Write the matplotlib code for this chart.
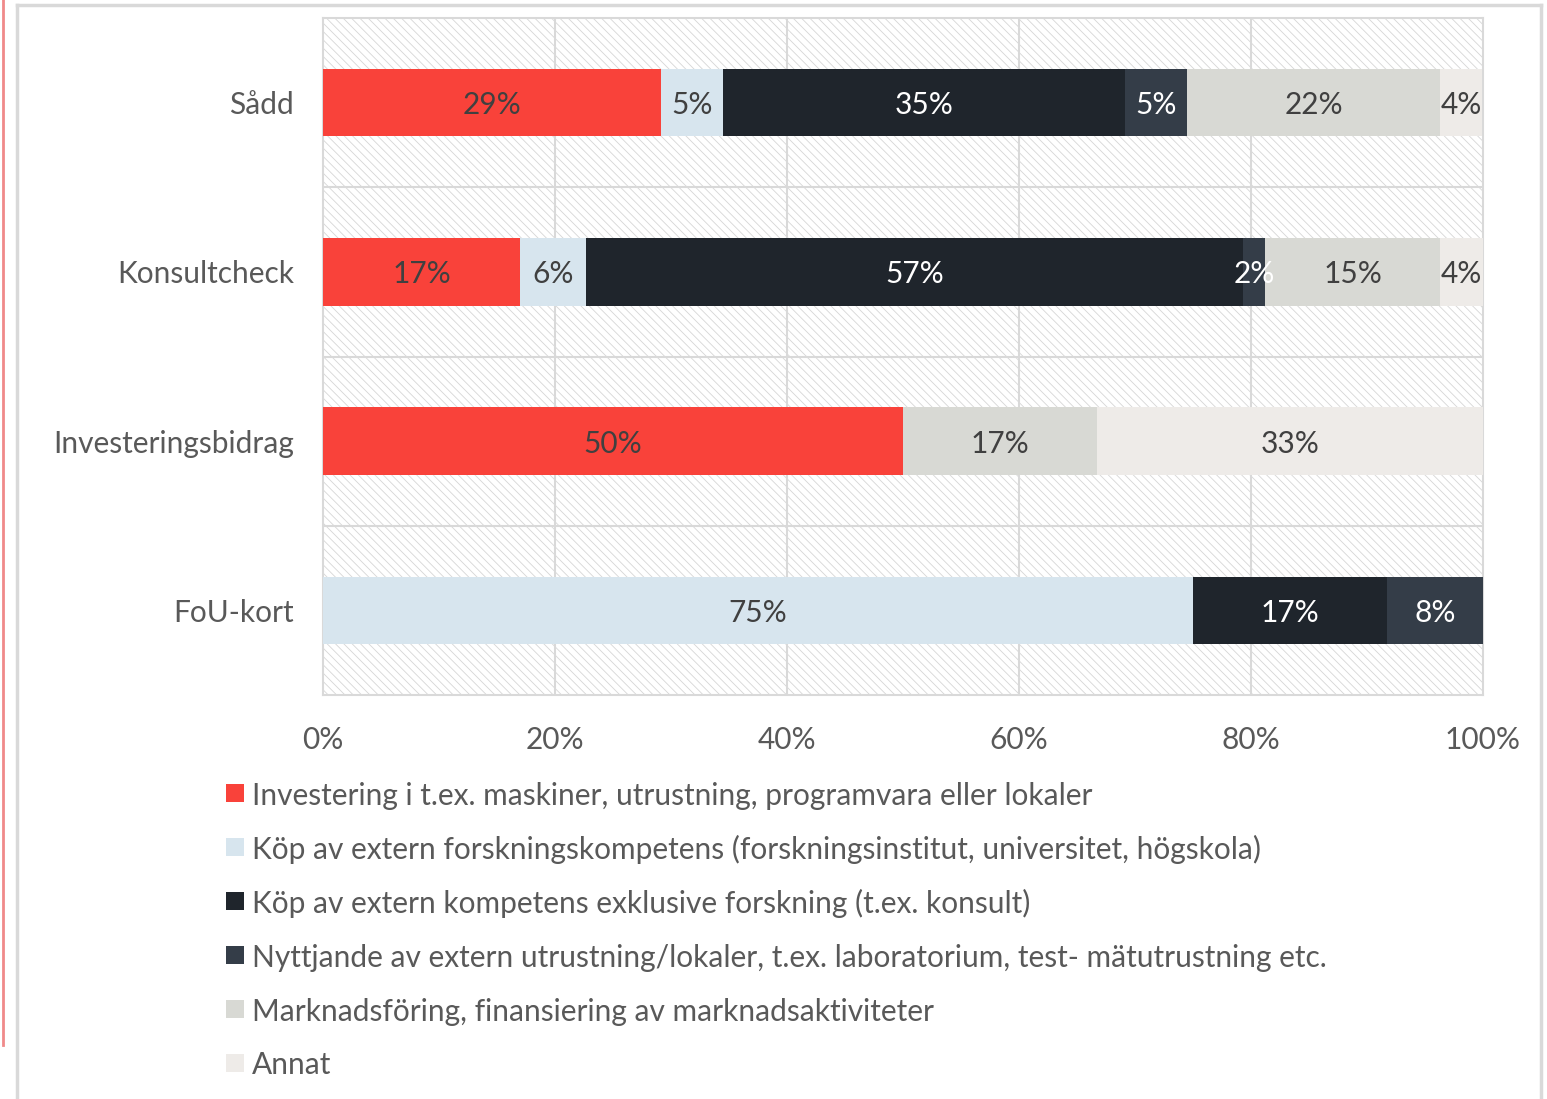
import numpy as np
import matplotlib
matplotlib.use("Agg")
import matplotlib.pyplot as plt
from matplotlib.patches import Rectangle
from matplotlib.lines import Line2D

# Data (andel i procent)
categories = ["Sådd", "Konsultcheck", "Investeringsbidrag", "FoU-kort"]
series_names = [
    "Investering i t.ex. maskiner, utrustning, programvara eller lokaler",
    "Köp av extern forskningskompetens (forskningsinstitut, universitet, högskola)",
    "Köp av extern kompetens exklusive forskning (t.ex. konsult)",
    "Nyttjande av extern utrustning/lokaler, t.ex. laboratorium, test- mätutrustning etc.",
    "Marknadsföring, finansiering av marknadsaktiviteter",
    "Annat",
]
investering = [29.1, 17.0, 50.0, 0.0]
forskning = [5.4, 5.7, 0.0, 75.0]
konsult = [34.6, 56.6, 0.0, 16.7]
utrustning = [5.4, 1.9, 0.0, 8.3]
marknad = [21.8, 15.1, 16.7, 0.0]
annat = [3.6, 3.7, 33.3, 0.0]
values = [investering, forskning, konsult, utrustning, marknad, annat]

colors = ["#F9423A", "#D7E5EE", "#1F252C", "#343D48", "#D8D9D4", "#EEEBE8"]
text_colors = ["#404040", "#404040", "white", "white", "#404040", "#404040"]
xticks = [0, 20, 40, 60, 80, 100]

plt.rcParams["font.family"] = ["Lato", "DejaVu Sans"]
grey_txt = "#595959"
fs = 21.5

fig = plt.figure(figsize=(15.47, 10.99), dpi=100)
ax = fig.add_axes([323 / 1547, 1 - 695 / 1099, 1160 / 1547, 677 / 1099])

# schraffert bakgrund
plt.rcParams["hatch.linewidth"] = 0.6
bg = Rectangle((0, 0), 1, 1, transform=ax.transAxes, facecolor="white",
               edgecolor="#D6D6D6", hatch="\\\\\\\\", linewidth=0, zorder=0)
ax.add_patch(bg)

y = np.arange(len(categories))
left = np.zeros(len(categories))
for vals, col, tcol in zip(values, colors, text_colors):
    vals = np.array(vals)
    ax.barh(y, vals, left=left, height=0.4, color=col, zorder=3)
    for yi, v, l in zip(y, vals, left):
        if v > 0:
            ax.text(l + v / 2, yi, f"{v:.0f}%", ha="center", va="center_baseline",
                    fontsize=fs, color=tcol, zorder=4)
    left += vals

ax.set_xlim(0, 100)
ax.set_ylim(len(categories) - 0.5, -0.5)
ax.set_xticks(xticks)
ax.set_xticklabels([f"{t}%" for t in xticks])
ax.set_yticks(y)
ax.set_yticklabels(categories)
ax.tick_params(axis="x", length=0, pad=22, labelsize=fs, labelcolor=grey_txt)
ax.tick_params(axis="y", length=0, pad=21, labelsize=fs, labelcolor=grey_txt)

# rutnät
for t in xticks[1:-1]:
    ax.axvline(t, color="#D9D9D9", lw=1.5, zorder=1)
for b in np.arange(0.5, len(categories) - 0.5, 1):
    ax.axhline(b, color="#D9D9D9", lw=1.5, zorder=1)
for s in ax.spines.values():
    s.set_color("#D9D9D9")
    s.set_linewidth(1.5)

# förklaring
for i, (name, col) in enumerate(zip(series_names, colors)):
    yc = 793 + i * 54
    fig.add_artist(Rectangle((226 / 1547, 1 - (yc + 9) / 1099), 18 / 1547, 18 / 1099,
                             transform=fig.transFigure, facecolor=col, edgecolor="none"))
    fig.text(252 / 1547, 1 - yc / 1099, name, ha="left", va="center_baseline",
             fontsize=fs, color=grey_txt)

# ram runt diagrammet
frame_col = "#D9D9D9"
fig.add_artist(Line2D([17 / 1547, 17 / 1547], [0, 1 - 5 / 1099], transform=fig.transFigure,
                      color=frame_col, lw=2.5))
fig.add_artist(Line2D([17 / 1547, 1541 / 1547], [1 - 5 / 1099, 1 - 5 / 1099],
                      transform=fig.transFigure, color=frame_col, lw=2.5))
fig.add_artist(Line2D([1541 / 1547, 1541 / 1547], [0, 1 - 5 / 1099], transform=fig.transFigure,
                      color=frame_col, lw=2.5))
fig.add_artist(Line2D([3 / 1547, 3 / 1547], [1 - 1045 / 1099, 1], transform=fig.transFigure,
                      color="#F08A8A", lw=2))

fig.savefig("out.png", dpi=100)
